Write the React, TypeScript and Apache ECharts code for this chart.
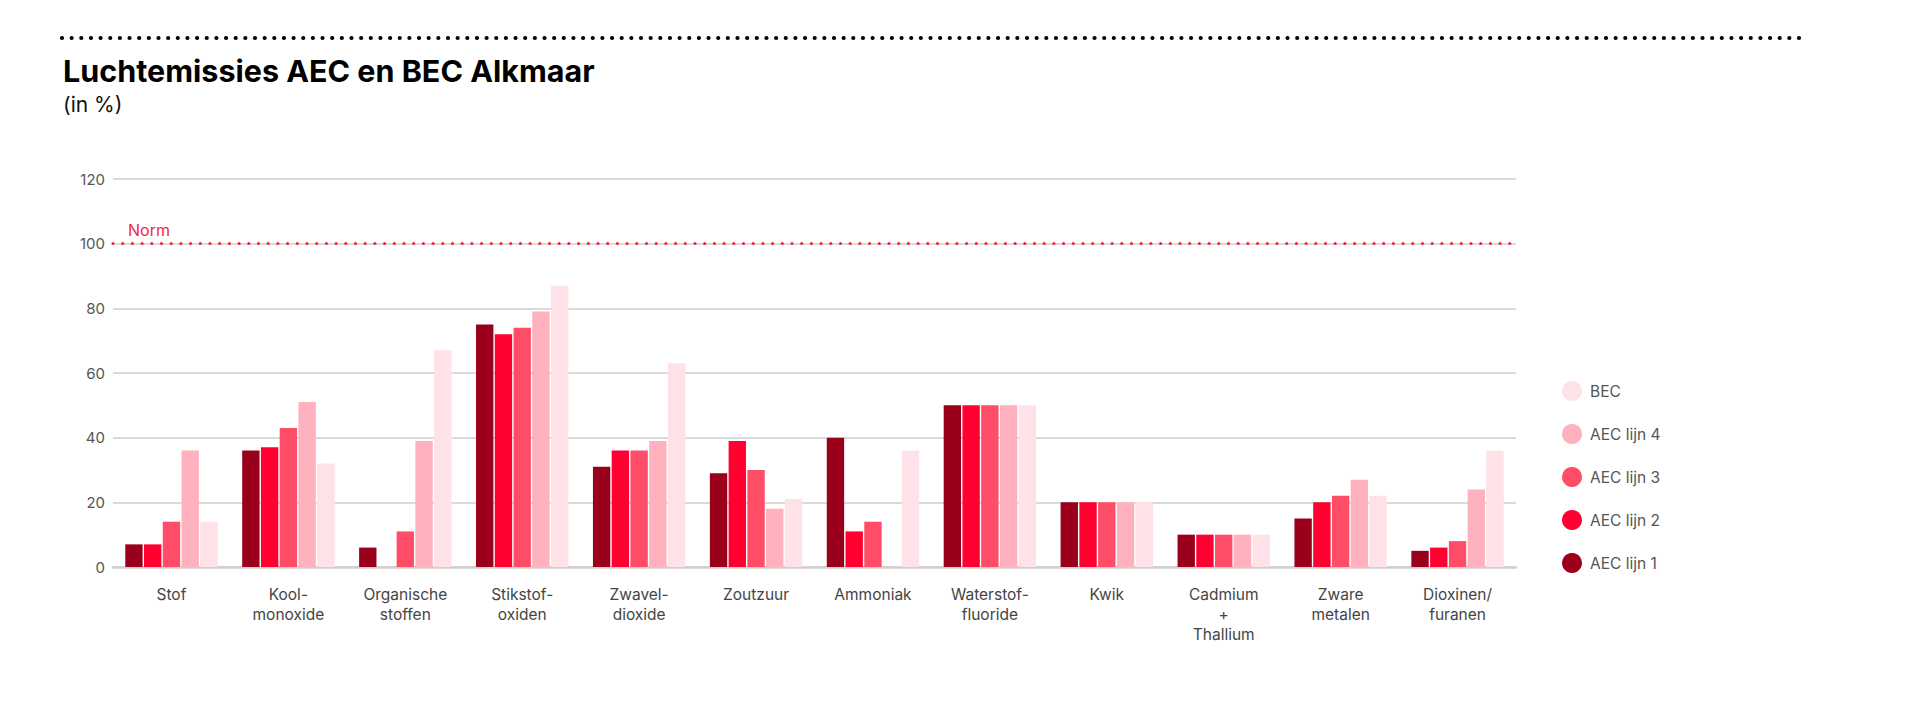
import React, { useEffect, useRef } from "react";
import * as echarts from "echarts";

const categories = [
  "Stof",
  "Kool-\nmonoxide",
  "Organische\nstoffen",
  "Stikstof-\noxiden",
  "Zwavel-\ndioxide",
  "Zoutzuur",
  "Ammoniak",
  "Waterstof-\nfluoride",
  "Kwik",
  "Cadmium\n+\nThallium",
  "Zware\nmetalen",
  "Dioxinen/\nfuranen",
];

const aecLijn1 = [7, 36, 6, 75, 31, 29, 40, 50, 20, 10, 15, 5];
const aecLijn2 = [7, 37, 0, 72, 36, 39, 11, 50, 20, 10, 20, 6];
const aecLijn3 = [14, 43, 11, 74, 36, 30, 14, 50, 20, 10, 22, 8];
const aecLijn4 = [36, 51, 39, 79, 39, 18, 0, 50, 20, 10, 27, 24];
const bec = [14, 32, 67, 87, 63, 21, 36, 50, 20, 10, 22, 36];

const seriesNames = ["AEC lijn 1", "AEC lijn 2", "AEC lijn 3", "AEC lijn 4", "BEC"];
const seriesColors = ["#9a001c", "#ff0030", "#ff4d68", "#ffb1bd", "#ffe2e8"];
const legendOrder = ["BEC", "AEC lijn 4", "AEC lijn 3", "AEC lijn 2", "AEC lijn 1"];
const yTicks = { min: 0, max: 120, interval: 20 };
const normValue = 100;

const FONT = "Inter, 'Noto Sans', sans-serif";

export default function App() {
  const ref = useRef<HTMLDivElement>(null);

  useEffect(() => {
    document.body.style.margin = "0";
    if (!ref.current) return;
    const chart = echarts.init(ref.current, null, { renderer: "svg" });
    const allData = [aecLijn1, aecLijn2, aecLijn3, aecLijn4, bec];

    const series: any[] = allData.map((d, i) => ({
      name: seriesNames[i],
      type: "bar",
      data: d,
      barGap: "8%",
      barCategoryGap: "21%",
      itemStyle: { color: seriesColors[i] },
      emphasis: { disabled: true },
    }));
    series[0].markLine = {
      symbol: "none",
      silent: true,
      lineStyle: { color: "#f0263f", type: [0, 9.7], width: 3.2, cap: "round" },
      label: {
        show: true,
        position: "insideStartTop",
        formatter: "Norm",
        color: "#ec2a43",
        fontFamily: FONT,
        fontSize: 16,
        distance: [15, 6],
      },
      data: [{ yAxis: normValue }],
    };

    chart.setOption({
      animation: false,
      textStyle: { fontFamily: FONT },
      title: {
        text: "Luchtemissies AEC en BEC Alkmaar",
        subtext: "(in %)",
        left: 58,
        top: 50,
        itemGap: 8,
        textStyle: { fontFamily: FONT, fontSize: 30.5, fontWeight: "bold", color: "#000" },
        subtextStyle: { fontFamily: FONT, fontSize: 21, color: "#111" },
      },
      graphic: [
        {
          type: "line",
          shape: { x1: 62, y1: 38, x2: 1802, y2: 38 },
          style: { stroke: "#000", lineWidth: 4.2, lineDash: [0, 9.65], lineCap: "round" },
        },
      ],
      legend: {
        orient: "vertical",
        left: 1557,
        top: 376,
        icon: "circle",
        itemWidth: 20,
        itemHeight: 20,
        itemGap: 23,
        data: legendOrder,
        selectedMode: false,
        textStyle: { fontFamily: FONT, fontSize: 15.5, color: "#555", padding: [0, 0, 0, 3] },
      },
      grid: { left: 113, right: 404, top: 179, bottom: 153, containLabel: false },
      xAxis: {
        type: "category",
        data: categories,
        axisTick: { show: false },
        axisLine: { lineStyle: { color: "#cfcfcf", width: 2.5 } },
        axisLabel: {
          fontFamily: FONT,
          fontSize: 15.5,
          color: "#444",
          lineHeight: 20,
          margin: 17,
          interval: 0,
        },
      },
      yAxis: {
        type: "value",
        min: yTicks.min,
        max: yTicks.max,
        interval: yTicks.interval,
        axisLine: { show: false },
        axisTick: { show: false },
        splitLine: { lineStyle: { color: "#dadada", width: 2 } },
        axisLabel: { fontFamily: FONT, fontSize: 15, color: "#555", margin: 8 },
      },
      series,
    });

    return () => chart.dispose();
  }, []);

  return <div ref={ref} style={{ width: 1920, height: 720 }} />;
}
